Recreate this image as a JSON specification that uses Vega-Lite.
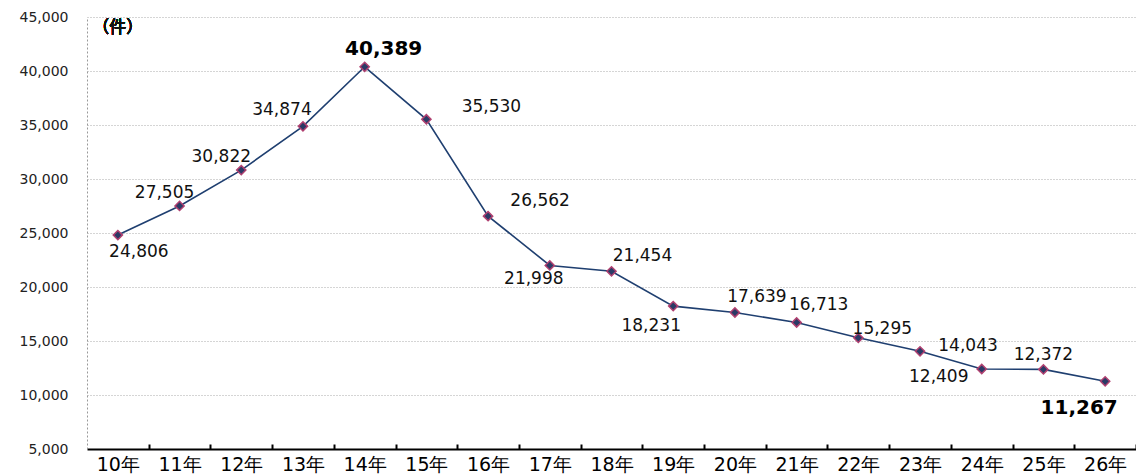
{
  "$schema": "https://vega.github.io/schema/vega-lite/v6.json",
  "width": 1049,
  "height": 432,
  "autosize": "none",
  "padding": {"left": 87, "top": 17, "right": 0, "bottom": 27},
  "background": "white",
  "config": {"view": {"stroke": null}, "font": "DejaVu Sans"},
  "data": {"values": [
    {"year": "10年", "value": 24806},
    {"year": "11年", "value": 27505},
    {"year": "12年", "value": 30822},
    {"year": "13年", "value": 34874},
    {"year": "14年", "value": 40389},
    {"year": "15年", "value": 35530},
    {"year": "16年", "value": 26562},
    {"year": "17年", "value": 21998},
    {"year": "18年", "value": 21454},
    {"year": "19年", "value": 18231},
    {"year": "20年", "value": 17639},
    {"year": "21年", "value": 16713},
    {"year": "22年", "value": 15295},
    {"year": "23年", "value": 14043},
    {"year": "24年", "value": 12409},
    {"year": "25年", "value": 12372},
    {"year": "26年", "value": 11267}
  ]},
  "encoding": {
    "x": {"field": "year", "type": "ordinal", "sort": null,
      "scale": {"type": "point", "padding": 0.5},
      "axis": {"title": null, "labelAngle": 0, "labelFontSize": 19, "labelColor": "#000", "domainColor": "#000", "domainWidth": 2, "tickColor": "#000", "tickWidth": 2, "tickSize": -5, "tickOffset": 30.85, "labelOffset": -30.85, "labelPadding": 11, "grid": false}},
    "y": {"field": "value", "type": "quantitative",
      "scale": {"domain": [5000, 45000], "nice": false, "zero": false},
      "axis": {"title": null, "values": [5000, 10000, 15000, 20000, 25000, 30000, 35000, 40000, 45000], "format": ",.0f", "labelFontSize": 14, "labelColor": "#222", "labelPadding": 19, "ticks": false, "domainColor": "#999", "domainDash": [2, 2], "grid": true, "gridColor": "#aaa", "gridDash": [1, 2]}}
  },
  "layer": [
    {"mark": {"type": "line", "color": "#1F3F70", "strokeWidth": 1.6}},
    {"mark": {"type": "point", "shape": "diamond", "filled": true, "fill": "#2B3A66", "stroke": "#B04070", "strokeWidth": 1.5, "size": 85, "opacity": 1}},
    {"mark": {"type": "text", "text": "（件）", "font": "Noto Sans CJK SC", "fontSize": 17, "color": "#111"}, "encoding": {"x": {"datum": "10年"}, "y": {"datum": 44000}}},
    {"transform": [{"filter": "datum.year == '10年'"}], "mark": {"type": "text", "dx": 21, "dy": 17, "fontSize": 17, "color": "#111"}, "encoding": {"text": {"field": "value", "format": ","}}},
    {"transform": [{"filter": "datum.year == '11年'"}], "mark": {"type": "text", "dx": -15, "dy": -13, "fontSize": 17, "color": "#111"}, "encoding": {"text": {"field": "value", "format": ","}}},
    {"transform": [{"filter": "datum.year == '12年'"}], "mark": {"type": "text", "dx": -20, "dy": -13, "fontSize": 17, "color": "#111"}, "encoding": {"text": {"field": "value", "format": ","}}},
    {"transform": [{"filter": "datum.year == '13年'"}], "mark": {"type": "text", "dx": -21, "dy": -16, "fontSize": 17, "color": "#111"}, "encoding": {"text": {"field": "value", "format": ","}}},
    {"transform": [{"filter": "datum.year == '14年'"}], "mark": {"type": "text", "dx": 19, "dy": -18, "fontSize": 20, "fontWeight": "bold", "color": "#000"}, "encoding": {"text": {"field": "value", "format": ","}}},
    {"transform": [{"filter": "datum.year == '15年'"}], "mark": {"type": "text", "dx": 65, "dy": -12, "fontSize": 17, "color": "#111"}, "encoding": {"text": {"field": "value", "format": ","}}},
    {"transform": [{"filter": "datum.year == '16年'"}], "mark": {"type": "text", "dx": 52, "dy": -15, "fontSize": 17, "color": "#111"}, "encoding": {"text": {"field": "value", "format": ","}}},
    {"transform": [{"filter": "datum.year == '17年'"}], "mark": {"type": "text", "dx": -16, "dy": 14, "fontSize": 17, "color": "#111"}, "encoding": {"text": {"field": "value", "format": ","}}},
    {"transform": [{"filter": "datum.year == '18年'"}], "mark": {"type": "text", "dx": 31, "dy": -15, "fontSize": 17, "color": "#111"}, "encoding": {"text": {"field": "value", "format": ","}}},
    {"transform": [{"filter": "datum.year == '19年'"}], "mark": {"type": "text", "dx": -22, "dy": 20, "fontSize": 17, "color": "#111"}, "encoding": {"text": {"field": "value", "format": ","}}},
    {"transform": [{"filter": "datum.year == '20年'"}], "mark": {"type": "text", "dx": 22, "dy": -15, "fontSize": 17, "color": "#111"}, "encoding": {"text": {"field": "value", "format": ","}}},
    {"transform": [{"filter": "datum.year == '21年'"}], "mark": {"type": "text", "dx": 22, "dy": -17, "fontSize": 17, "color": "#111"}, "encoding": {"text": {"field": "value", "format": ","}}},
    {"transform": [{"filter": "datum.year == '22年'"}], "mark": {"type": "text", "dx": 24, "dy": -9, "fontSize": 17, "color": "#111"}, "encoding": {"text": {"field": "value", "format": ","}}},
    {"transform": [{"filter": "datum.year == '23年'"}], "mark": {"type": "text", "dx": 48, "dy": -5, "fontSize": 17, "color": "#111"}, "encoding": {"text": {"field": "value", "format": ","}}},
    {"transform": [{"filter": "datum.year == '24年'"}], "mark": {"type": "text", "dx": -43, "dy": 8, "fontSize": 17, "color": "#111"}, "encoding": {"text": {"field": "value", "format": ","}}},
    {"transform": [{"filter": "datum.year == '25年'"}], "mark": {"type": "text", "dx": 0, "dy": -14, "fontSize": 17, "color": "#111"}, "encoding": {"text": {"field": "value", "format": ","}}},
    {"transform": [{"filter": "datum.year == '26年'"}], "mark": {"type": "text", "dx": -26, "dy": 27, "fontSize": 20, "fontWeight": "bold", "color": "#000"}, "encoding": {"text": {"field": "value", "format": ","}}}
  ]
}
